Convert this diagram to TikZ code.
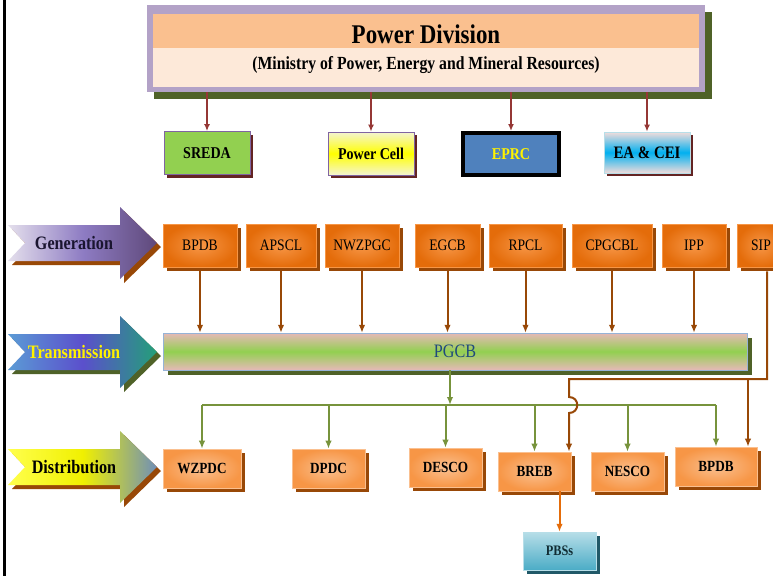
\documentclass[tikz,border=0pt]{standalone}
\usepackage{fontspec}
\setmainfont{Liberation Serif}[FakeStretch=0.85]
\usetikzlibrary{shadows,arrows.meta}

\definecolor{pdframe}{HTML}{B3A2C7}
\definecolor{pdshade}{HTML}{4F6228}
\definecolor{pdtop}{HTML}{FAC08F}
\definecolor{pdbot}{HTML}{FDE9D9}
\definecolor{redline}{HTML}{953735}
\definecolor{redshade}{HTML}{632423}
\definecolor{sredagreen}{HTML}{92D050}
\definecolor{violetedge}{HTML}{8064A2}
\definecolor{eprcblue}{HTML}{4F81BD}
\definecolor{orangedark}{HTML}{E46C0A}
\definecolor{orangemid}{HTML}{F79646}
\definecolor{orangelight}{HTML}{FAC090}
\definecolor{brownline}{HTML}{984807}
\definecolor{greenline}{HTML}{77933C}
\definecolor{pgcbpink}{HTML}{E6B9B8}
\definecolor{pgcbedge}{HTML}{95B3D7}
\definecolor{navy}{HTML}{1F497D}
\definecolor{tealdark}{HTML}{215968}
\definecolor{tealmid}{HTML}{4BACC6}
\definecolor{teallight}{HTML}{B7DEE8}
\definecolor{cyanband}{HTML}{00B0F0}
\definecolor{pinkwhite}{HTML}{F2DCDB}
\definecolor{paleyellow}{HTML}{F4F4D2}
\definecolor{genleft}{HTML}{E4DFEC}
\definecolor{genmid}{HTML}{8E7CC3}
\definecolor{genright}{HTML}{5F497A}
\definecolor{gentext}{HTML}{1A1530}
\definecolor{trleft}{HTML}{5B9BD5}
\definecolor{trmid}{HTML}{5B4FCC}
\definecolor{trright}{HTML}{23A079}
\definecolor{dileft}{HTML}{FFFF4D}
\definecolor{dimid}{HTML}{F0F000}
\definecolor{diright}{HTML}{6F8FB8}

\tikzset{
  topbase/.style={font=\bfseries\fontsize{16.5}{18}\selectfont, inner sep=0pt,
    minimum width=86pt, minimum height=43pt, line width=0.8pt},
  topbox/.style={topbase, drop shadow={shadow xshift=3pt, shadow yshift=-3pt, fill=redshade, opacity=1}},
  genbox/.style={inner sep=0pt, minimum height=43pt, inner color=orangemid, outer color=orangedark,
    draw=orangemid, line width=0.6pt, font=\fontsize{16}{18}\selectfont,
    drop shadow={shadow xshift=4pt, shadow yshift=-4pt, fill=brownline, opacity=1}},
  distbox/.style={inner sep=0pt, minimum width=73pt, minimum height=39pt, inner color=orangelight,
    outer color=orangemid, draw=orangelight, line width=0.6pt, font=\bfseries\fontsize{15.5}{17}\selectfont,
    drop shadow={shadow xshift=4pt, shadow yshift=-4pt, fill=brownline, opacity=1}},
  stagetext/.style={font=\bfseries\fontsize{19}{21}\selectfont},
  pdarr/.style={draw=redline, line width=1.6pt, -{Latex[length=7pt,width=6pt]}},
  genarr/.style={draw=brownline, line width=2pt, -{Latex[length=8pt,width=6.5pt]}},
  grnline/.style={draw=greenline, line width=2pt},
  grnarr/.style={grnline, -{Latex[length=8pt,width=6.5pt]}},
  orgarr/.style={draw=orangedark, line width=2pt, -{Latex[length=8pt,width=6.5pt]}}
}

\begin{document}
\begin{tikzpicture}[x=1pt, y=-1pt]
\useasboundingbox (0,0) rectangle (773,576);
\clip (0,0) rectangle (773,576);
\fill[white] (0,0) rectangle (773,576);
\draw[line width=3pt] (4.5,0) -- (4.5,576);

% power division
\node[minimum width=558pt, minimum height=87pt, inner sep=0pt, fill=pdframe,
  drop shadow={shadow xshift=7pt, shadow yshift=-7pt, fill=pdshade, opacity=1}] (pd) at (426,48.5) {};
\fill[pdtop] (153,14) rectangle (699,48);
\fill[pdbot] (153,48) rectangle (699,87);
\node[font=\bfseries\fontsize{27}{30}\selectfont] (pdtitle) at (426,34) {Power Division};
\node[font=\bfseries\fontsize{18.5}{21}\selectfont] (pdsub) at (426,65) {(Ministry of Power, Energy and Mineral Resources)};

\node[topbox, fill=sredagreen, draw=violetedge] (sreda) at (207,153) {SREDA};
\node[topbox, top color=paleyellow, bottom color=paleyellow, middle color=yellow, draw=violetedge] (pcell) at (371,153.5) {Power Cell};
\node[topbase, fill=eprcblue, draw=black, line width=4pt, text=yellow, minimum width=96pt, minimum height=42pt,
  drop shadow={shadow xshift=2pt, shadow yshift=-2pt, fill=gray!60, opacity=1}] (eprc) at (511,154) {EPRC};
\node[topbox, top color=pinkwhite, bottom color=pinkwhite, middle color=cyanband, draw=teallight,
  minimum height=41pt, font=\bfseries\fontsize{17.5}{19}\selectfont] (eacei) at (647,152.5) {EA \& CEI};

\foreach \name in {sreda,pcell,eprc,eacei}
  \draw[pdarr] (\name.north |- pd.south) -- (\name.north);

% stage arrows
\foreach \yc/\lc/\mc/\rc/\sc/\tc/\lab [count=\i] in {243/genleft/genmid/genright/brownline/gentext/Generation,
    352/trleft/trmid/trright/pdshade/yellow/Transmission, 467/dileft/dimid/diright/brownline/black/Distribution}{
  \fill[\sc, shift={(4,\yc+4)}] (8,-18) -- (120,-18) -- (120,-36) -- (157,0) -- (120,36) -- (120,18) -- (8,18) -- (25,0) -- cycle;
  \shade[shift={(0,\yc)}, left color=\lc, right color=\rc, middle color=\mc]
    (8,-18) -- (120,-18) -- (120,-36) -- (157,0) -- (120,36) -- (120,18) -- (8,18) -- (25,0) -- cycle;
  \node[stagetext, text=\tc] (stage\i) at (74,\yc) {\lab};
}

% generation
\foreach \name/\cx/\w/\lab in {gbpdb/200/74/BPDB, apscl/281/70/APSCL, nwzpgc/362/74/NWZPGC, egcb/447.5/65/EGCB,
    rpcl/525.5/73/RPCL, cpgcbl/612/80/CPGCBL, ipp/694/64/IPP, sip/761/48/SIP}
  \node[genbox, minimum width=\w pt] (\name) at (\cx,245.5) {\lab};

% transmission
\node[inner sep=0pt, minimum width=584pt, minimum height=37pt, top color=pgcbpink, bottom color=pgcbpink,
  middle color=sredagreen, draw=pgcbedge, text=navy, font=\fontsize{19}{21}\selectfont,
  drop shadow={shadow xshift=5pt, shadow yshift=-5pt, fill=pdshade, opacity=1}] (pgcb) at (455,351.5) {PGCB};

\foreach \name in {gbpdb,apscl,nwzpgc,egcb,rpcl,cpgcbl,ipp}
  \draw[genarr] ([yshift=-4pt]\name.south) -- (\name.south |- pgcb.north);

% distribution
\foreach \name/\cx/\cy/\w/\lab in {wzpdc/202/468.5/78/WZPDC, dpdc/328.5/468.5/73/DPDC, desco/445.5/467.5/73/DESCO,
    breb/534.5/471.5/73/BREB, nesco/627.5/471.5/73/NESCO, dbpdb/716/466.5/82/BPDB}
  \node[distbox, minimum width=\w pt] (\name) at (\cx,\cy) {\lab};

\node[inner sep=0pt, minimum width=73pt, minimum height=38pt, top color=teallight, bottom color=tealmid,
  draw=teallight, text=tealdark!50!black, font=\bfseries\fontsize{14.5}{16}\selectfont,
  drop shadow={shadow xshift=4pt, shadow yshift=-4pt, fill=tealdark, opacity=1}] (pbs) at (559.5,551) {PBSs};

\coordinate (bus) at (450,405);
\draw[grnarr] (pgcb.south -| bus) -- (bus);
\draw[grnline] (wzpdc.north |- bus) -- (dbpdb.north |- bus);
\foreach \name in {wzpdc,dpdc,desco,breb,nesco,dbpdb}
  \draw[grnarr] (\name.north |- bus) -- (\name.north);

% SIP feeds
\coordinate (siprun) at (0,379);
\coordinate (hoptop) at (569,397);
\coordinate (hopbot) at (569,413);
\coordinate (bpdbdrop) at (748,379);
\draw[genarr] ([yshift=-4pt,xshift=6pt]sip.south) -- ([xshift=6pt]sip.south |- siprun) -- (hoptop |- siprun) -- (hoptop)
  .. controls +(11,0) and +(11,0) .. (hopbot) -- (hopbot |- breb.north);
\draw[genarr] (bpdbdrop) -- (bpdbdrop |- dbpdb.north);

\draw[orgarr] (pbs.north |- breb.south) -- (pbs.north);
\end{tikzpicture}
\end{document}
